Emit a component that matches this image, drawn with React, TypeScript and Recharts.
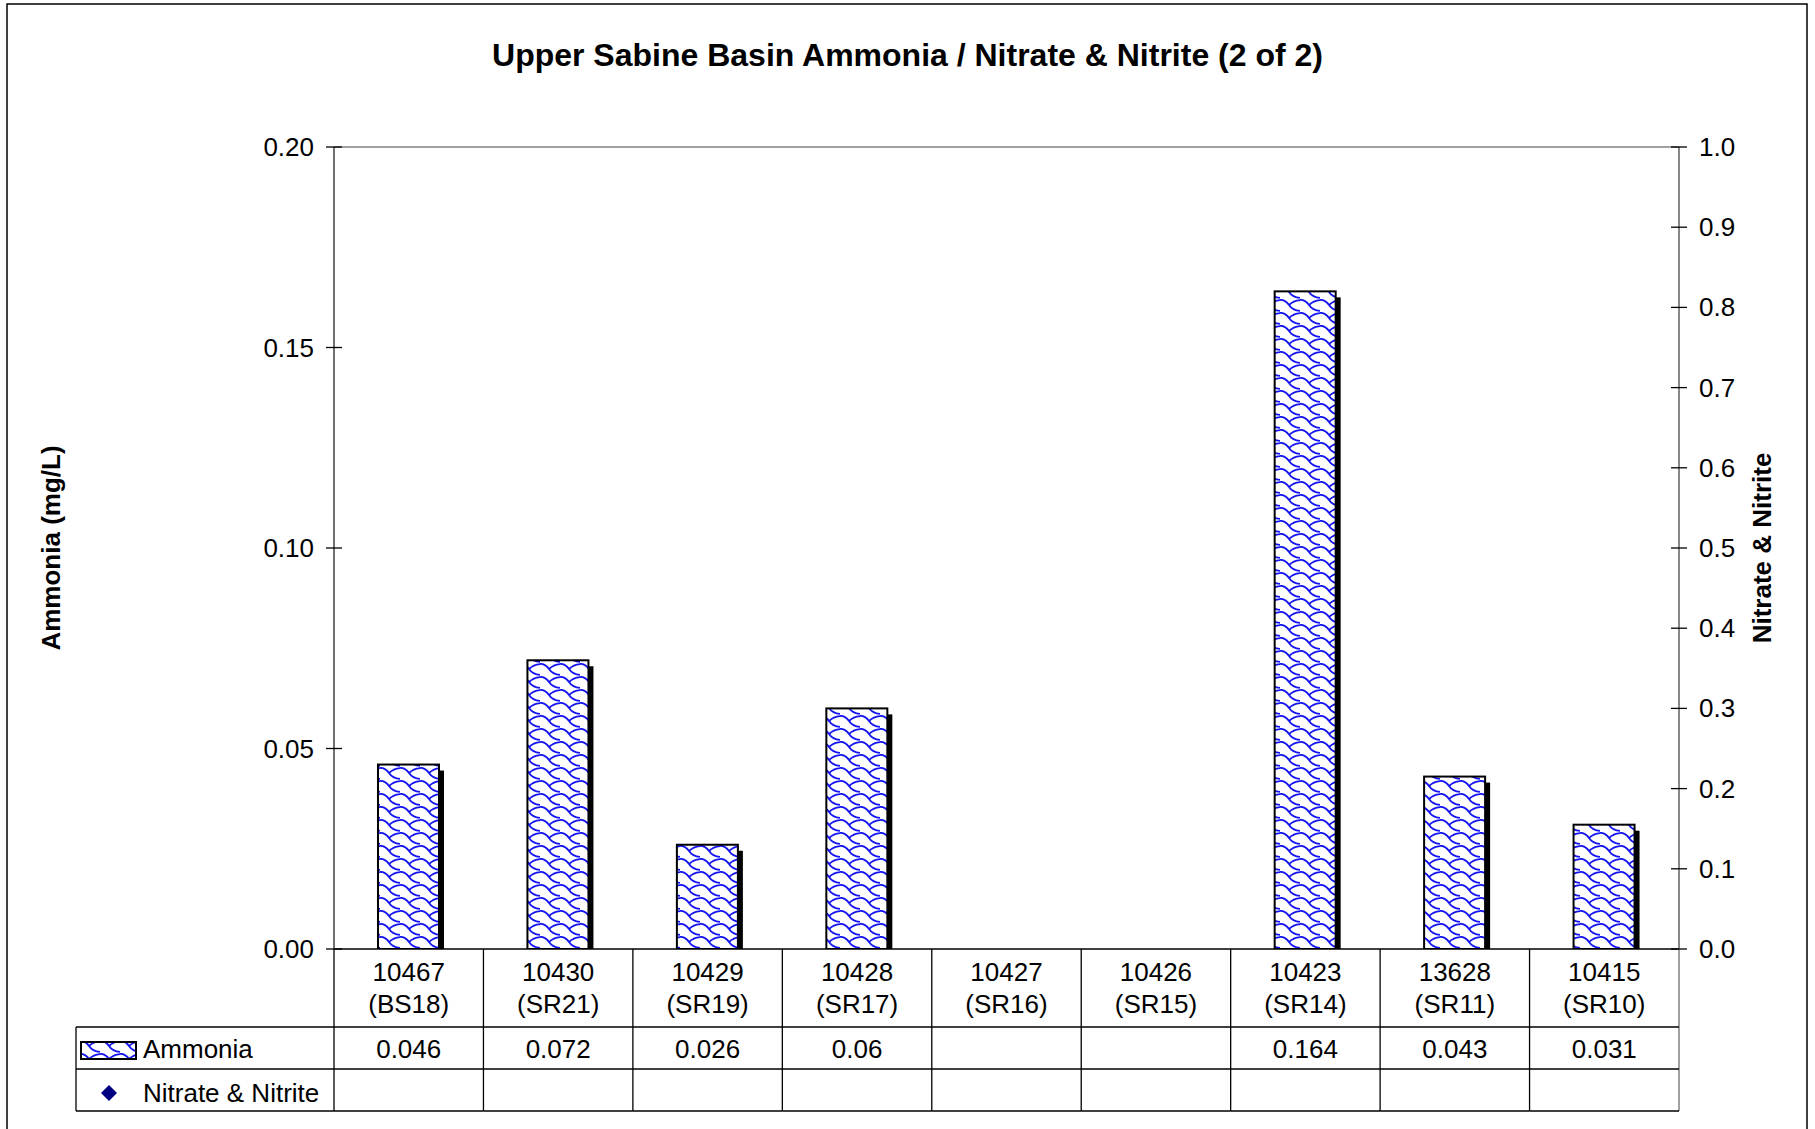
import React from "react";
import { ComposedChart, Bar, Line, XAxis, YAxis, ReferenceLine } from "recharts";

// station / segment labels along the category axis
const stations = ["10467", "10430", "10429", "10428", "10427", "10426", "10423", "13628", "10415"];
const segments = ["(BS18)", "(SR21)", "(SR19)", "(SR17)", "(SR16)", "(SR15)", "(SR14)", "(SR11)", "(SR10)"];

// series values (mg/L)
const ammonia: (number | null)[] = [0.046, 0.072, 0.026, 0.06, null, null, 0.164, 0.043, 0.031];
const nitrate: (number | null)[] = [null, null, null, null, null, null, null, null, null];

const leftTicks = [0, 0.05, 0.1, 0.15, 0.2];
const rightTicks = [0, 0.1, 0.2, 0.3, 0.4, 0.5, 0.6, 0.7, 0.8, 0.9, 1.0];

const data = stations.map((s, i) => ({
  station: s,
  segment: segments[i],
  ammonia: ammonia[i],
  nitrate: nitrate[i],
}));

const W = 1815;
const H = 1129;
const LEFT_W = 334;
const RIGHT_W = 136;
const X_H = 162;
const LEGEND_W = 258;
const BAND = (W - LEFT_W - RIGHT_W) / stations.length;
const ROWS = [78, 120, 162];
const FONT = "'Liberation Sans', Arial, Helvetica, sans-serif";
const FS = 26;

const txt = { fontSize: FS, fontFamily: FONT, fill: "#000" };

function ShingleBar(props: any) {
  const { x, y, width, height } = props;
  if (!height || height <= 0) return <g />;
  return (
    <g>
      <rect x={x + 5} y={y + 6} width={width} height={height - 6} fill="#000" />
      <rect x={x} y={y} width={width} height={height} fill="url(#shingle)" stroke="#000" strokeWidth={2} />
    </g>
  );
}

function LeftTick({ x, y, payload }: any) {
  return (
    <g>
      <line x1={x + 12} x2={x + 28} y1={y} y2={y} stroke="#000" strokeWidth={1.3} />
      <text x={x} y={y + 9} textAnchor="end" {...txt}>
        {Number(payload.value).toFixed(2)}
      </text>
    </g>
  );
}

function RightTick({ x, y, payload }: any) {
  return (
    <g>
      <line x1={x - 28} x2={x - 12} y1={y} y2={y} stroke="#000" strokeWidth={1.3} />
      <text x={x} y={y + 9} textAnchor="start" {...txt}>
        {Number(payload.value).toFixed(1)}
      </text>
    </g>
  );
}

function LegendColumn({ right, y }: { right: number; y: number }) {
  const left = right - LEGEND_W;
  return (
    <g>
      <line x1={left} x2={left} y1={y + ROWS[0]} y2={y + ROWS[2]} stroke="#000" strokeWidth={1.3} />
      {ROWS.map((dy) => (
        <line key={dy} x1={left} x2={right} y1={y + dy} y2={y + dy} stroke="#000" strokeWidth={1.3} />
      ))}
      <rect x={left + 5} y={y + 93} width={55} height={17} fill="url(#shingle)" stroke="#000" strokeWidth={2} />
      <text x={left + 67} y={y + 109} {...txt}>Ammonia</text>
      <path d={`M${left + 33} ${y + 136} l8 8 l-8 8 l-8 -8 z`} fill="#000080" />
      <text x={left + 67} y={y + 153} {...txt}>Nitrate &amp; Nitrite</text>
    </g>
  );
}

function TableTick(props: any) {
  const { x, y, index } = props;
  const d = data[index];
  if (!d) return <g />;
  const l = x - BAND / 2;
  const r = x + BAND / 2;
  return (
    <g>
      <line x1={l} x2={l} y1={y} y2={y + X_H} stroke="#000" strokeWidth={1.3} />
      {index === data.length - 1 && (
        <line x1={r} x2={r} y1={y} y2={y + X_H} stroke="#808080" strokeWidth={1.5} />
      )}
      {ROWS.map((dy) => (
        <line key={dy} x1={l} x2={r} y1={y + dy} y2={y + dy} stroke="#000" strokeWidth={1.3} />
      ))}
      <text x={x} y={y + 32} textAnchor="middle" {...txt}>{d.station}</text>
      <text x={x} y={y + 63.5} textAnchor="middle" {...txt}>{d.segment}</text>
      {d.ammonia != null && (
        <text x={x} y={y + 109} textAnchor="middle" {...txt}>{String(d.ammonia)}</text>
      )}
      {d.nitrate != null && (
        <text x={x} y={y + 153} textAnchor="middle" {...txt}>{String(d.nitrate)}</text>
      )}
      {index === 0 && <LegendColumn right={l} y={y} />}
    </g>
  );
}

export default function App() {
  return (
    <div style={{ position: "absolute", left: 0, top: 0, width: W, height: H, background: "#fff" }}>
      <ComposedChart
        width={W}
        height={H}
        data={data}
        margin={{ top: 147, right: 0, bottom: 18, left: 0 }}
        style={{ fontFamily: FONT }}
      >
        <XAxis
          dataKey="station"
          xAxisId="x"
          height={X_H}
          interval={0}
          tickLine={false}
          tickSize={0}
          tickMargin={0}
          axisLine={{ stroke: "#000", strokeWidth: 1.5 }}
          tick={<TableTick />}
        />
        <YAxis
          yAxisId="left"
          type="number"
          width={LEFT_W}
          domain={[0, 0.2]}
          allowDataOverflow
          ticks={leftTicks}
          interval={0}
          tickLine={false}
          tickSize={8}
          tickMargin={12}
          axisLine={{ stroke: "#404040", strokeWidth: 1.5 }}
          tick={<LeftTick />}
          label={{
            value: "Ammonia (mg/L)",
            angle: -90,
            position: "center",
            dx: -116,
            style: { fontSize: FS, fontWeight: "bold", fontFamily: FONT, fill: "#000" },
          }}
        />
        <YAxis
          yAxisId="right"
          type="number"
          orientation="right"
          width={RIGHT_W}
          domain={[0, 1]}
          allowDataOverflow
          ticks={rightTicks}
          interval={0}
          tickLine={false}
          tickSize={8}
          tickMargin={12}
          axisLine={{ stroke: "#606060", strokeWidth: 1.5 }}
          tick={<RightTick />}
          label={{
            value: "Nitrate & Nitrite",
            angle: -90,
            position: "center",
            dx: 15,
            style: { fontSize: FS, fontWeight: "bold", fontFamily: FONT, fill: "#000" },
          }}
        />
        <ReferenceLine yAxisId="left" xAxisId="x" y={0.2} stroke="#808080" strokeWidth={1.5} ifOverflow="visible" />
        <Bar
          dataKey="ammonia"
          name="Ammonia"
          xAxisId="x"
          yAxisId="left"
          barSize={61}
          shape={<ShingleBar />}
          isAnimationActive={false}
        />
        <Line
          dataKey="nitrate"
          name="Nitrate & Nitrite"
          xAxisId="x"
          yAxisId="right"
          stroke="#000080"
          strokeWidth={0}
          dot={false}
          isAnimationActive={false}
        />
      </ComposedChart>
      <svg
        width={W}
        height={H}
        style={{ position: "absolute", left: 0, top: 0, pointerEvents: "none" }}
      >
        <defs>
          <pattern id="shingle" patternUnits="userSpaceOnUse" width={20} height={13}>
            <rect width={20} height={13} fill="#fff" />
            <path d="M-2 1 C4 0 7 3 9 6 C11 9 14 12 22 12" stroke="#1414f0" strokeWidth={1.8} fill="none" />
            <path d="M9 6 C12 3 15 1 22 1" stroke="#1414f0" strokeWidth={1.8} fill="none" />
          </pattern>
        </defs>
        <rect x={7} y={4} width={1800} height={1140} fill="none" stroke="#000" strokeWidth={1.5} />
        <text x={W / 2} y={66} textAnchor="middle" fontSize={32} fontWeight="bold" fontFamily={FONT} fill="#000">
          Upper Sabine Basin Ammonia / Nitrate &amp; Nitrite (2 of 2)
        </text>
      </svg>
    </div>
  );
}
